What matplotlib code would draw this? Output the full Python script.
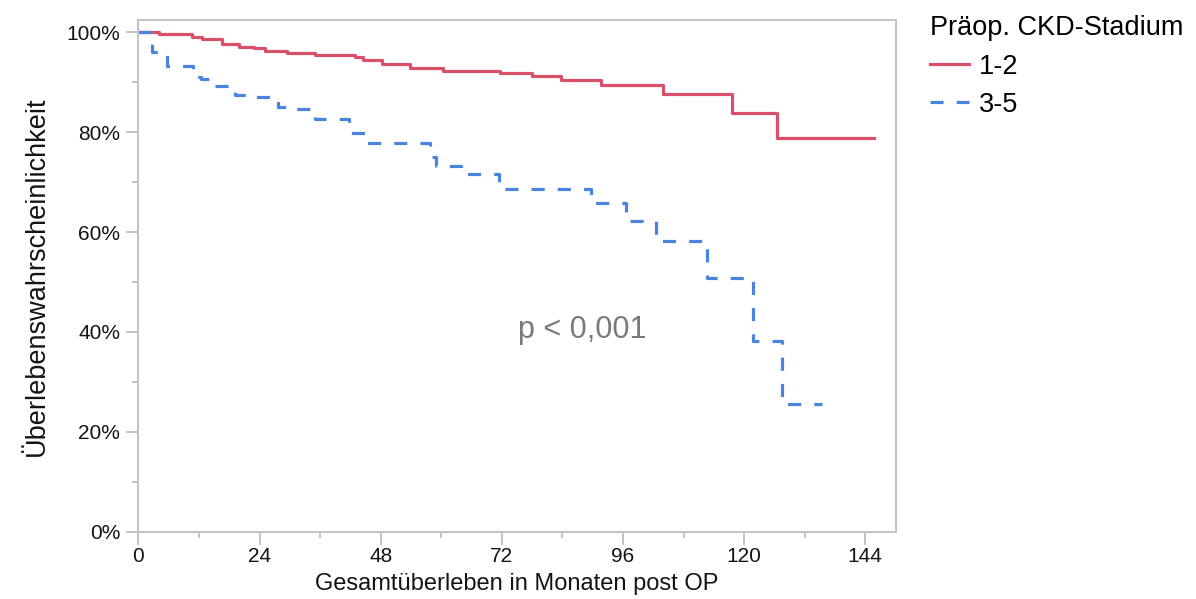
import matplotlib
matplotlib.use("Agg")
import matplotlib.pyplot as plt
from matplotlib.ticker import FixedLocator, FuncFormatter

plt.rcParams['font.family'] = ['Liberation Sans', 'DejaVu Sans']

# Kaplan-Meier step data (months, survival %)
months_ckd12 = [0, 4, 10.6, 12.6, 16.6, 20, 23, 25, 29.5, 35, 43, 44.4, 48.3,
                53.8, 60.3, 71.6, 77.9, 83.8, 91.7, 103.9, 117.7, 126.6, 145.8]
surv_ckd12 = [100, 99.6, 99.0, 98.6, 97.7, 97.1, 96.8, 96.3, 95.9, 95.5, 95.0, 94.5, 93.6,
              92.8, 92.3, 91.8, 91.3, 90.4, 89.4, 87.6, 83.9, 78.8, 78.8]

months_ckd35 = [0, 2.6, 5.6, 10.8, 12.5, 15, 19.1, 22, 27.7, 30.5, 34.9, 41.7, 44.9,
                57.7, 59, 64, 71.4, 89.7, 96.6, 102.6, 112.6, 121.7, 127.6, 135.5]
surv_ckd35 = [100, 96.1, 93.3, 91.1, 90.6, 89.3, 87.4, 87.0, 85.0, 84.6, 82.7, 79.9, 77.8,
              75.1, 73.2, 71.6, 68.6, 65.9, 62.3, 58.1, 50.7, 38.2, 25.6, 25.6]

series_labels = ['1-2', '3-5']
legend_title = 'Präop. CKD-Stadium'
x_ticks = [0, 24, 48, 72, 96, 120, 144]
y_ticks = [0, 20, 40, 60, 80, 100]
p_text = 'p < 0,001'

RED = '#d9506a'
BLUE = '#4a84dc'
GRID = '#c4c4c4'

fig = plt.figure(figsize=(11.96, 5.99), dpi=100)
ax = fig.add_axes([138.4 / 1196, 1 - 531.6 / 599, (895.5 - 138.4) / 1196, (531.6 - 20) / 599])

ax.step(months_ckd12, surv_ckd12, where='post', color=RED, lw=2.3, label=series_labels[0])
ax.step(months_ckd35, surv_ckd35, where='post', color=BLUE, lw=2.3,
        linestyle=(0, (4.1, 4.1)), label=series_labels[1])

ax.set_xlim(0, 150)
ax.set_ylim(0, 102.46)

ax.xaxis.set_major_locator(FixedLocator(x_ticks))
ax.xaxis.set_minor_locator(FixedLocator([12, 36, 60, 84, 108, 132]))
ax.yaxis.set_major_locator(FixedLocator(y_ticks))
ax.yaxis.set_minor_locator(FixedLocator([10, 30, 50, 70, 90]))
ax.yaxis.set_major_formatter(FuncFormatter(lambda v, p: f'{int(v)}%'))

for s in ax.spines.values():
    s.set_color(GRID)
    s.set_linewidth(1.5)

ax.tick_params(axis='both', which='major', length=9, width=1.1, color='#b4b4b4', labelcolor='#141414')
ax.tick_params(axis='both', which='minor', length=4.5, width=1.1, color='#b4b4b4')
ax.tick_params(axis='x', which='major', labelsize=15, pad=2)
ax.tick_params(axis='y', which='major', labelsize=15, pad=4)

ax.set_xlabel('Gesamtüberleben in Monaten post OP', fontsize=17, color='#141414', labelpad=5)
ax.set_ylabel('Überlebenswahrscheinlichkeit', fontsize=19.5, color='#141414', labelpad=12)

ax.text(88, 40.4, p_text, ha='center', va='center', fontsize=22, color='#7a7a7a')

leg = ax.legend(loc='upper left', bbox_to_anchor=(919 / 1196, 1 - 4.5 / 599),
                bbox_transform=fig.transFigure, frameon=False, title=legend_title,
                fontsize=19.5, title_fontsize=19.5, handlelength=1.45, handletextpad=0.35,
                labelspacing=0.45, borderaxespad=0, alignment='left')

fig.savefig('out.png', dpi=100)
